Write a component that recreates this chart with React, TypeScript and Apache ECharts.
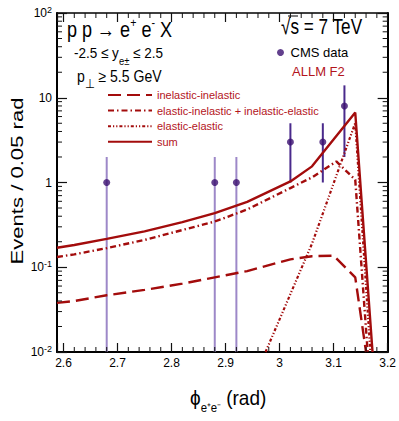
import React, { useEffect, useRef } from "react";
import * as echarts from "echarts";

const X_MIN = 2.588;
const X_MAX = 3.2;
const Y_MIN = 0.01;
const Y_MAX = 100;

// CMS data points
const dataPhi = [2.68, 2.88, 2.92, 3.02, 3.08, 3.12];
const dataEvents = [1, 1, 1, 3, 3, 8];
const dataErrLow = [1, 1, 1, 2, 2, 6];
const dataErrHigh = [1, 1, 1, 2, 2, 6];

// ALLM F2 predictions
const sumPhi = [2.588, 2.62, 2.68, 2.75, 2.82, 2.88, 2.94, 3.02, 3.06, 3.14, 3.172];
const sumValues = [0.17, 0.183, 0.216, 0.265, 0.34, 0.435, 0.59, 1.03, 1.55, 6.7, 0.01];

const elInelPhi = [2.588, 2.62, 2.68, 2.75, 2.82, 2.88, 2.94, 3.02, 3.06, 3.105, 3.14, 3.163];
const elInelValues = [0.132, 0.142, 0.168, 0.21, 0.275, 0.346, 0.48, 0.86, 1.15, 1.77, 1.08, 0.01];

const inelInelPhi = [2.588, 2.62, 2.68, 2.75, 2.82, 2.88, 2.94, 3.02, 3.06, 3.1, 3.14, 3.16];
const inelInelValues = [0.038, 0.04, 0.0467, 0.054, 0.064, 0.076, 0.09, 0.124, 0.135, 0.137, 0.076, 0.01];

const elElPhi = [2.974, 3.06, 3.14, 3.168];
const elElValues = [0.01, 0.19, 5.04, 0.01];

const yTickLabels: Record<string, string> = {
  "-2": "{b|10}{s|-2}",
  "-1": "{b|10}{s|-1}",
  "0": "{b|1}",
  "1": "{b|10}",
  "2": "{b|10}{s|2}",
};

const FONT = '"Liberation Sans", Arial, sans-serif';
const LINE_RED = "#a30c0c";
const TEXT_RED = "#b3141c";
const DOT = "#3b1070";
const BAR_DARK = "#4a2a8c";
const BAR_LIGHT = "#9d88c8";

const zip = (xs: number[], ys: number[]) => xs.map((x, i) => [x, ys[i]]);

// minor tick positions (axis decoration)
const xMinor: number[] = [];
for (let i = 130; i <= 160; i++) {
  if (i % 5 !== 0) xMinor.push(i / 50);
}
const yMinor: number[] = [];
for (let k = -2; k <= 1; k++) {
  for (let m = 2; m <= 9; m++) yMinor.push(m * Math.pow(10, k));
}

export default function App() {
  const ref = useRef<HTMLDivElement>(null);
  useEffect(() => {
    const chart = echarts.init(ref.current!, null, { renderer: "svg" });
    const tickStyle = { stroke: "#111", lineWidth: 1 };
    const option: any = {
      animation: false,
      backgroundColor: "#fff",
      grid: { left: 57, right: 9, top: 13, bottom: 69 },
      xAxis: [
        {
          type: "value",
          min: X_MIN,
          max: X_MAX,
          position: "bottom",
          splitLine: { show: false },
          axisLine: { show: true, lineStyle: { color: "#000", width: 2 } },
          axisTick: { show: true, inside: true, length: 9, lineStyle: { color: "#111", width: 1.2 } },
          axisLabel: {
            margin: 5,
            fontSize: 12,
            color: "#000",
            fontFamily: FONT,
            formatter: (v: number) => {
              const r = Math.round(v * 10) / 10;
              if (Math.abs(r - v) > 1e-6) return "";
              return String(r);
            },
          },
        },
        {
          type: "value",
          min: X_MIN,
          max: X_MAX,
          position: "top",
          splitLine: { show: false },
          axisLine: { show: true, lineStyle: { color: "#000", width: 1.6 } },
          axisTick: { show: true, inside: true, length: 9, lineStyle: { color: "#111", width: 1.2 } },
          axisLabel: { show: false },
        },
      ],
      yAxis: [
        {
          type: "log",
          logBase: 10,
          min: Y_MIN,
          max: Y_MAX,
          position: "left",
          splitLine: { show: false },
          axisLine: { show: true, lineStyle: { color: "#000", width: 2 } },
          axisTick: { show: true, inside: true, length: 10, lineStyle: { color: "#111", width: 1.2 } },
          axisLabel: {
            margin: 5,
            color: "#000",
            formatter: (v: number) => yTickLabels[String(Math.round(Math.log10(v)))] || "",
            rich: {
              b: { fontSize: 12, fontFamily: FONT, color: "#000" },
              s: { fontSize: 9, fontFamily: FONT, color: "#000", verticalAlign: "top", lineHeight: 16 },
            },
          },
        },
        {
          type: "log",
          logBase: 10,
          min: Y_MIN,
          max: Y_MAX,
          position: "right",
          splitLine: { show: false },
          axisLine: { show: true, lineStyle: { color: "#000", width: 2 } },
          axisTick: { show: true, inside: true, length: 10, lineStyle: { color: "#111", width: 1.2 } },
          axisLabel: { show: false },
        },
      ],
      legend: [
        {
          data: ["inelastic-inelastic", "elastic-inelastic + inelastic-elastic", "elastic-elastic", "sum"],
          orient: "vertical",
          left: 107,
          top: 89,
          itemWidth: 44,
          itemHeight: 10,
          itemGap: 3.6,
          padding: 0,
          selectedMode: false,
          itemStyle: { opacity: 0 },
          textStyle: { color: TEXT_RED, fontSize: 11, fontFamily: FONT, lineHeight: 12 },
        },
        {
          data: ["CMS data"],
          orient: "vertical",
          left: 277,
          top: 46,
          itemWidth: 10,
          itemHeight: 7,
          padding: 0,
          selectedMode: false,
          textStyle: { color: "#000", fontSize: 13, fontFamily: FONT },
        },
      ],
      graphic: [
        {
          type: "text",
          x: 67,
          y: 16,
          scaleX: 0.82,
          style: {
            text: "{m|p p → e}{sup|+}{m| e}{sup|-}{m| X}",
            fill: "#000",
            rich: {
              m: { fontSize: 22, fontFamily: FONT, fill: "#000", lineHeight: 26, verticalAlign: "middle" },
              sup: { fontSize: 13, fontFamily: FONT, fill: "#000", lineHeight: 12, verticalAlign: "top" },
            },
          },
        },
        {
          type: "text",
          x: 74,
          y: 39,
          scaleX: 0.9,
          style: {
            text: "{m|-2.5 ≤ y}{sub|e±}{m| ≤ 2.5}",
            fill: "#000",
            rich: {
              m: { fontSize: 15, fontFamily: FONT, fill: "#000", lineHeight: 28, verticalAlign: "middle" },
              sub: { fontSize: 10.5, fontFamily: FONT, fill: "#000", lineHeight: 11, verticalAlign: "bottom" },
            },
          },
        },
        {
          type: "text",
          x: 77,
          y: 62,
          scaleX: 0.88,
          style: {
            text: "{m|p}{sub|⊥}{m| ≥ 5.5 GeV}",
            fill: "#000",
            rich: {
              m: { fontSize: 16, fontFamily: FONT, fill: "#000", lineHeight: 28, verticalAlign: "middle" },
              sub: { fontSize: 13, fontFamily: FONT, fill: "#000", lineHeight: 13, verticalAlign: "bottom" },
            },
          },
        },
        {
          type: "text",
          x: 281,
          y: 15,
          scaleX: 0.78,
          style: {
            text: "√s = 7 TeV",
            fill: "#000",
            font: `22px ${FONT}`,
          },
        },
        {
          type: "line",
          shape: { x1: 288, y1: 16, x2: 298, y2: 16 },
          style: { stroke: "#000", lineWidth: 1 },
        },
        {
          type: "text",
          x: 292,
          y: 65,
          style: { text: "ALLM F2", fill: TEXT_RED, font: `13px ${FONT}` },
        },
        {
          type: "text",
          x: 17,
          y: 181,
          rotation: Math.PI / 2,
          scaleX: 1.3,
          style: {
            text: "Events / 0.05 rad",
            fill: "#000",
            font: `17px ${FONT}`,
            align: "center",
            verticalAlign: "middle",
          },
        },
        {
          type: "text",
          x: 190,
          y: 383,
          scaleX: 0.95,
          style: {
            text: "{m|ϕ}{sub|e⁺e⁻}{m| (rad)}",
            fill: "#000",
            rich: {
              m: { fontSize: 20, fontFamily: FONT, fill: "#000", lineHeight: 30, verticalAlign: "middle" },
              sub: { fontSize: 12, fontFamily: FONT, fill: "#000", lineHeight: 12, verticalAlign: "bottom" },
            },
          },
        },
      ],
      series: [
        {
          type: "custom",
          name: "xminor",
          silent: true,
          coordinateSystem: "cartesian2d",
          data: xMinor.map((v) => [v, Y_MIN]),
          encode: { x: 0, y: 1 },
          renderItem: (params: any, api: any) => {
            const v = api.value(0);
            const b = api.coord([v, Y_MIN]);
            const t = api.coord([v, Y_MAX]);
            return {
              type: "group",
              children: [
                { type: "line", shape: { x1: b[0], y1: b[1], x2: b[0], y2: b[1] - 5 }, style: tickStyle },
                { type: "line", shape: { x1: t[0], y1: t[1], x2: t[0], y2: t[1] + 5 }, style: tickStyle },
              ],
            };
          },
          z: 5,
        },
        {
          type: "custom",
          name: "yminor",
          silent: true,
          coordinateSystem: "cartesian2d",
          data: yMinor.map((v) => [X_MIN, v]),
          encode: { x: 0, y: 1 },
          renderItem: (params: any, api: any) => {
            const v = api.value(1);
            const l = api.coord([X_MIN, v]);
            const r = api.coord([X_MAX, v]);
            return {
              type: "group",
              children: [
                { type: "line", shape: { x1: l[0], y1: l[1], x2: l[0] + 5, y2: l[1] }, style: tickStyle },
                { type: "line", shape: { x1: r[0], y1: r[1], x2: r[0] - 5, y2: r[1] }, style: tickStyle },
              ],
            };
          },
          z: 5,
        },
        {
          type: "custom",
          name: "errors",
          silent: true,
          coordinateSystem: "cartesian2d",
          data: dataPhi.map((x, i) => [x, dataEvents[i], dataErrLow[i], dataErrHigh[i]]),
          encode: { x: 0, y: 1 },
          renderItem: (params: any, api: any) => {
            const x = api.value(0);
            const y = api.value(1);
            const lo = api.value(2);
            const hi = api.value(3);
            const lowVal = Math.max(y - lo, Y_MIN);
            const top = api.coord([x, y + hi]);
            const bot = api.coord([x, lowVal]);
            return {
              type: "line",
              shape: { x1: top[0], y1: top[1], x2: bot[0], y2: bot[1] },
              style: { stroke: y - lo <= 0 ? BAR_LIGHT : BAR_DARK, lineWidth: 2 },
            };
          },
          z: 3,
        },
        {
          type: "line",
          name: "inelastic-inelastic",
          data: zip(inelInelPhi, inelInelValues),
          symbol: "none",
          lineStyle: { color: LINE_RED, width: 2.4, type: [13, 6] },
          itemStyle: { color: LINE_RED },
          z: 4,
        },
        {
          type: "line",
          name: "elastic-inelastic + inelastic-elastic",
          data: zip(elInelPhi, elInelValues),
          symbol: "none",
          lineStyle: { color: LINE_RED, width: 2.4, type: [6, 3, 1.5, 3] },
          itemStyle: { color: LINE_RED },
          z: 4,
        },
        {
          type: "line",
          name: "elastic-elastic",
          data: zip(elElPhi, elElValues),
          symbol: "none",
          lineStyle: { color: LINE_RED, width: 2.2, type: [3, 2, 1.2, 2, 1.2, 2] },
          itemStyle: { color: LINE_RED },
          z: 4,
        },
        {
          type: "line",
          name: "sum",
          data: zip(sumPhi, sumValues),
          symbol: "none",
          lineStyle: { color: LINE_RED, width: 2.4 },
          itemStyle: { color: LINE_RED },
          z: 4,
        },
        {
          type: "scatter",
          name: "CMS data",
          data: zip(dataPhi, dataEvents),
          symbol: "circle",
          symbolSize: 7,
          itemStyle: { color: DOT },
          z: 6,
        },
      ],
    };
    chart.setOption(option);
    return () => chart.dispose();
  }, []);
  return <div ref={ref} style={{ position: "absolute", left: 0, top: 0, width: 399, height: 421 }} />;
}
